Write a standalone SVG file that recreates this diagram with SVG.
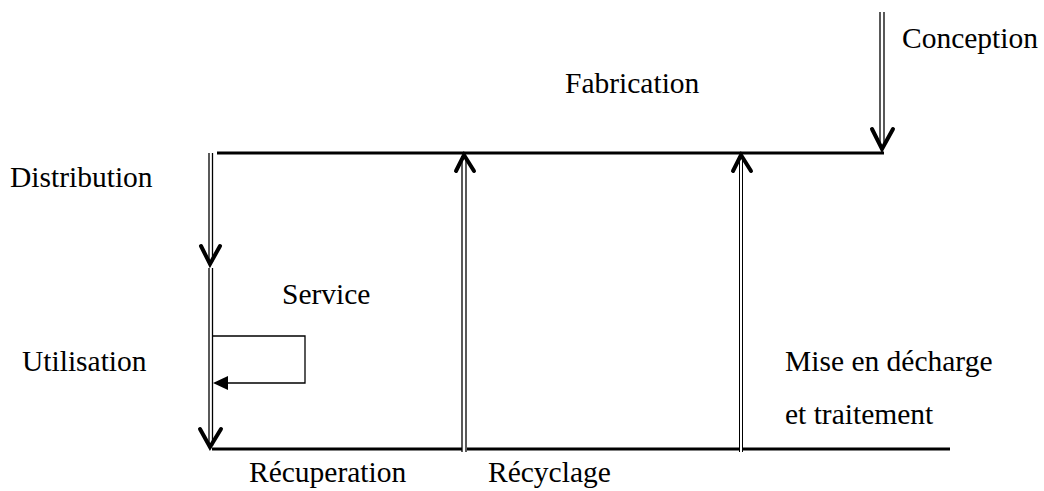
<svg xmlns="http://www.w3.org/2000/svg" width="1044" height="491" viewBox="0 0 1044 491">
<style>
text{font-family:"Liberation Serif","Times New Roman",serif;font-size:29.5px;fill:#000}
.thick{stroke:#000;stroke-width:3;fill:none}
.thin{stroke:#000;stroke-width:1.3;fill:none}
.thin2{stroke:#000;stroke-width:1;fill:none}
.chev{stroke:#000;stroke-width:4;fill:none;stroke-linecap:round;stroke-linejoin:miter}
</style>
<rect width="1044" height="491" fill="#fff"/>
<g id="connectors">
<line class="thick" x1="217" y1="153" x2="884" y2="153"/>
<line class="thick" x1="212" y1="449" x2="462" y2="449"/>
<line class="thick" x1="467" y1="449" x2="740" y2="449"/>
<line class="thick" x1="743" y1="449" x2="950" y2="449"/>
<line class="thin" x1="880" y1="12" x2="880" y2="147"/>
<line class="thin" x1="884" y1="12" x2="884" y2="147"/>
<polyline class="chev" points="872,129 882,149 893,129"/>
<line class="thin" x1="209" y1="153" x2="209" y2="262"/>
<line class="thin" x1="212.5" y1="153" x2="212.5" y2="262"/>
<polyline class="chev" points="201,246 210,264 220,246"/>
<line class="thin" x1="209" y1="268" x2="209" y2="446"/>
<line class="thin" x1="212.5" y1="268" x2="212.5" y2="446"/>
<polyline class="chev" points="200,429 210,447 221,429"/>
<line class="thin" x1="462" y1="156" x2="462" y2="452"/>
<line class="thin" x1="466" y1="156" x2="466" y2="452"/>
<polyline class="chev" points="456,171 464,155 474,171"/>
<line class="thin2" x1="739.5" y1="156" x2="739.5" y2="452"/>
<line class="thin2" x1="742.5" y1="156" x2="742.5" y2="452"/>
<polyline class="chev" points="733,171 741,155 751,171"/>
<polyline class="thin" points="212,336 305,336 305,383 226,383"/>
<polygon points="213,383 228,376 228,390" fill="#000"/>
</g>
<g id="n-conception"><text x="902" y="48">Conception</text></g>
<g id="n-fabrication"><text x="565" y="93">Fabrication</text></g>
<g id="n-distribution"><text x="10" y="187">Distribution</text></g>
<g id="n-service"><text x="282" y="304">Service</text></g>
<g id="n-utilisation"><text x="22" y="371">Utilisation</text></g>
<g id="n-decharge"><text x="785" y="371">Mise en décharge</text><text x="785" y="424">et traitement</text></g>
<g id="n-recuperation"><text x="249" y="482">Récuperation</text></g>
<g id="n-recyclage"><text x="488" y="482">Récyclage</text></g>
</svg>
